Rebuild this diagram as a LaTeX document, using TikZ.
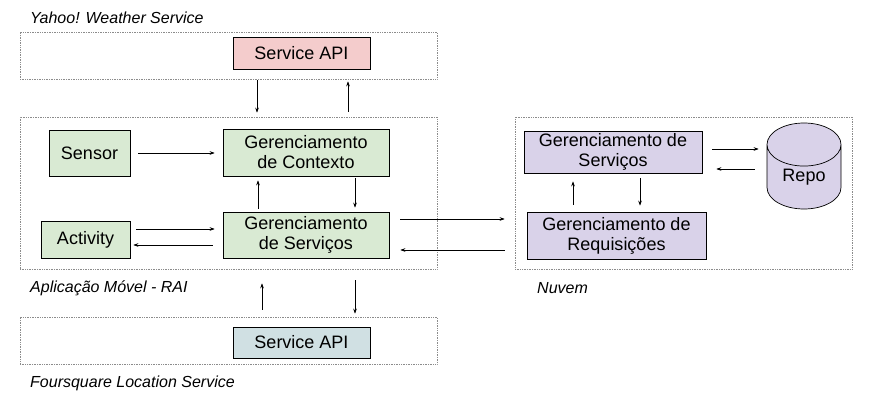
\documentclass[tikz,border=0pt]{standalone}
\usepackage{fontspec}
\setmainfont{Liberation Sans}
\usetikzlibrary{shapes.geometric,arrows.meta}
\definecolor{apired}{HTML}{F4CCCC}
\definecolor{appgreen}{HTML}{D9EAD3}
\definecolor{cloudlilac}{HTML}{D9D2E9}
\definecolor{apiteal}{HTML}{D0E0E3}
\begin{document}
\begin{tikzpicture}[x=1pt,y=-1pt,
  frame/.style={draw=black!45, densely dotted, line width=0.7pt, inner sep=0},
  box/.style={draw, line width=0.7pt, inner sep=0, align=center, font=\fontsize{18}{20}\selectfont},
  lbl/.style={anchor=west, inner sep=0, font=\fontsize{16}{18}\selectfont\itshape},
  arr/.style={-{Stealth[length=5pt,width=3.6pt]}, line width=0.6pt}]
\useasboundingbox (0,0) rectangle (896,414);
\node [frame, minimum width=417, minimum height=47] (yframe) at (228.5,55.5) {};
\node [frame, minimum width=417, minimum height=152] (appframe) at (228.5,193) {};
\node [frame, minimum width=417, minimum height=47] (fframe) at (228.5,340.5) {};
\node [frame, minimum width=337, minimum height=152] (cframe) at (683.5,193) {};
\node [lbl] (yahoolbl) at (30,18) {Yahoo! Weather Service};
\node [lbl] (applbl) at (30,288) {Aplicação Móvel - RAI};
\node [lbl] (cloudlbl) at (537,288) {Nuvem};
\node [lbl] (fourlbl) at (30,383) {Foursquare Location Service};
\node [box, fill=apired, minimum width=137, minimum height=32] (yapi) at (301.5,53) {Service API};
\node [box, fill=appgreen, minimum width=81, minimum height=46] (sensor) at (89.5,153) {Sensor};
\node [box, fill=appgreen, minimum width=166, minimum height=47] (ctx) at (306,152.5) {Gerenciamento\\de Contexto};
\node [box, fill=appgreen, minimum width=89, minimum height=37] (activity) at (85.5,239.5) {Activity};
\node [box, fill=appgreen, minimum width=166, minimum height=46] (gsv) at (306,235) {Gerenciamento\\de Serviços};
\node [box, fill=cloudlilac, minimum width=178, minimum height=42] (cgs) at (613,152) {Gerenciamento de\\Serviços};
\node [box, fill=cloudlilac, minimum width=179, minimum height=47] (creq) at (616.5,235.5) {Gerenciamento de\\Requisições};
\node [box, fill=cloudlilac, cylinder, shape border rotate=90, aspect=1, minimum width=74, minimum height=86, anchor=shape center] (repo) at (804,166) {Repo};
\node [box, fill=apiteal, minimum width=137, minimum height=31] (fapi) at (301.5,342.5) {Service API};
\draw [arr, shorten <=1, shorten >=4] ([xshift=-44.5pt]yapi.south |- yframe.south) -- ([xshift=-44.5pt]yapi.south |- appframe.north);
\draw [arr, shorten <=5, shorten >=2] ([xshift=46.5pt]yapi.south |- appframe.north) -- ([xshift=46.5pt]yapi.south |- yframe.south);
\draw [arr, shorten <=8, shorten >=8] (sensor.east) -- (sensor.east -| ctx.west);
\draw [arr, shorten <=3, shorten >=4] ([xshift=-48pt]gsv.north) -- ([xshift=-48pt]ctx.south);
\draw [arr, shorten <=2, shorten >=4] ([xshift=49pt]ctx.south) -- ([xshift=49pt]gsv.north);
\draw [arr, shorten <=6, shorten >=8] ([yshift=6pt]activity.east |- gsv.west) -- ([yshift=6pt]gsv.west);
\draw [arr, shorten <=10, shorten >=3] ([yshift=-10pt]gsv.west) -- ([yshift=-10pt]activity.east |- gsv.west);
\draw [arr, shorten <=11, shorten >=22] ([yshift=16pt]gsv.east) -- ([yshift=16pt]creq.west |- gsv.east);
\draw [arr, shorten <=22, shorten >=11] ([yshift=-15pt]creq.west |- gsv.east) -- ([yshift=-15pt]gsv.east);
\draw [arr, shorten <=10, shorten >=8] ([yshift=3pt]cgs.east) -- ([yshift=3pt]repo.west |- cgs.east);
\draw [arr, shorten <=12, shorten >=14] ([yshift=-17pt]repo.west |- cgs.east) -- ([yshift=-17pt]cgs.east);
\draw [arr, shorten <=7, shorten >=8] ([xshift=-40pt]cgs.south |- creq.north) -- ([xshift=-40pt]cgs.south);
\draw [arr, shorten <=5, shorten >=6] ([xshift=27pt]cgs.south) -- ([xshift=27pt]cgs.south |- creq.north);
\draw [arr, shorten <=7, shorten >=14] ([xshift=-39.5pt]fapi.north |- fframe.north) -- ([xshift=-39.5pt]fapi.north |- appframe.south);
\draw [arr, shorten <=11, shorten >=3] ([xshift=53.5pt]fapi.north |- appframe.south) -- ([xshift=53.5pt]fapi.north |- fframe.north);
\end{tikzpicture}
\end{document}
